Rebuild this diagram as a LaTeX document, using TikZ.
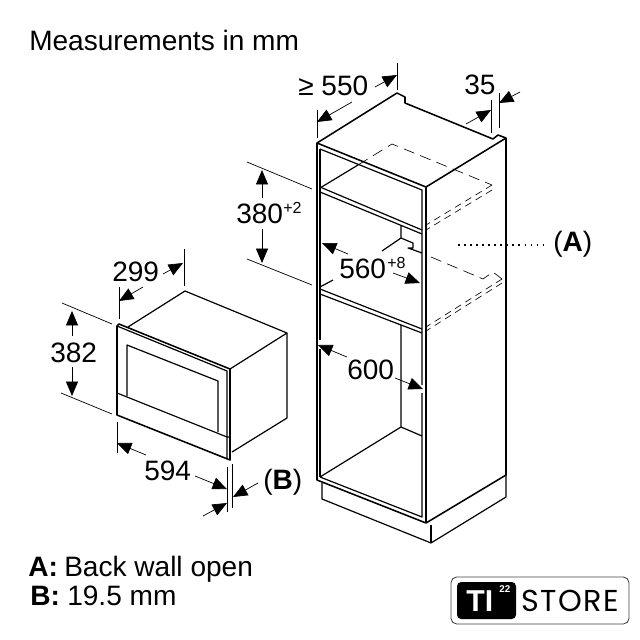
\documentclass[tikz,border=0pt]{standalone}
\usepackage{fontspec}
\setmainfont{Liberation Sans}
\newfontfamily\logofont[LetterSpace=5]{Poppins}
\usetikzlibrary{arrows.meta}
\tikzset{
    wall/.style={line width=1.1pt,line join=round},
    thinwall/.style={line width=.85pt,line join=round},
    hidden/.style={line width=.45pt,dash pattern=on 8pt off 4.5pt},
    hiddenshort/.style={line width=.45pt,dash pattern=on 5pt off 3.6pt},
    dimline/.style={line width=.5pt},
    dimarrow/.style={line width=.5pt,-{Triangle[length=.36cm,width=.3cm]}},
    lbl/.style={anchor=base west,inner sep=0pt,font=\fontsize{19.95}{24}\selectfont},
    suplbl/.style={anchor=base west,inner sep=0pt,font=\fontsize{11.4}{14}\selectfont}
}
\begin{document}
\begin{tikzpicture}[x=.025cm,y=-.025cm]
        
        \useasboundingbox (0,0) rectangle (640,640);
        
        \node[lbl] (title) at (29,50) {Measurements in mm};
        \node[lbl] (w550) at (298,95) {≥ 550};
        \node[lbl] (w35) at (464,94) {35};
        \node[lbl] (h380) at (236,223) {380};
        \node[suplbl] (h380s) at (283,213) {+2};
        \node[lbl] (w560) at (339,278) {560};
        \node[suplbl] (w560s) at (387,268) {+8};
        \node[lbl] (w600) at (347,379) {600};
        \node[lbl] (markA) at (553,251) {(\textbf{A})};
        \node[lbl] (d299) at (112,281) {299};
        \node[lbl] (h382) at (50,362) {382};
        \node[lbl] (w594) at (144,480) {594};
        \node[lbl] (markB) at (263,489) {(\textbf{B})};
        \node[lbl] (noteAk) at (28,576) {\textbf{A:}};
        \node[lbl] (noteA) at (64,576) {Back wall open};
        \node[lbl] (noteBk) at (30,605) {\textbf{B:}};
        \node[lbl] (noteB) at (67,605) {19.5 mm};
        
        % cabinet
        \draw[wall] (317,480) -- (317,143) -- (397,93) -- (405,97) -- (405,103) -- (493,139) -- (498,135) -- (506,138) -- (506,475) -- (426,523) -- cycle;
        \draw[wall] (317,143) -- (426,187) -- (506,138);
        \draw[wall] (426,187) -- (426,523);
        \draw[thinwall] (320,149) -- (320,340);
        \draw[thinwall] (320,349) -- (320,477);
        \draw[thinwall] (320,149) -- (422,190) -- (422,385);
        \draw[thinwall] (422,393) -- (422,517) -- (320,477);
        \draw[thinwall] (320,188) -- (358,165);
        \draw[thinwall] (320,187) -- (422,230);
        \draw[thinwall] (320,192) -- (422,234);
        \draw[thinwall] (401,225) -- (401,238) -- (382,251);
        \draw[thinwall] (401,238) -- (413,243) -- (413,248) -- (408,248) -- (422,253);
        \draw[thinwall] (320,287) -- (333,280);
        \draw[thinwall] (320,289) -- (422,329);
        \draw[thinwall] (320,294) -- (422,333);
        \draw[thinwall] (401,325) -- (401,427) -- (320,477);
        \draw[thinwall] (401,427) -- (422,436);
        
        % plinth
        \draw[thinwall] (322,483) -- (322,499) -- (431,543) -- (506,497) -- (506,475);
        \draw[thinwall] (431,525) -- (431,543);
        
        % hidden shelves
        \draw[hidden] (358,165) -- (392,144) -- (492,185);
        \draw[hiddenshort] (492,185) -- (426,225);
        \draw[hiddenshort] (492,190) -- (426,230);
        \draw[hidden] (431,257) -- (483,279) -- (493,272) -- (502,279);
        \draw[hiddenshort] (502,279) -- (426,327);
        \draw[hiddenshort] (502,283) -- (426,331);
        \draw[line width=1.4pt,dash pattern=on 1.2pt off 3.1pt] (458,245) -- (546,245);
        
        % appliance
        \draw[wall] (117,326) -- (117,415) -- (230,460) -- (230,369) -- (119,324) -- cycle;
        \draw[thinwall] (117,326) -- (227,371) -- (227,459);
        \draw[thinwall] (128,327) -- (185,291) -- (287,333) -- (230,369);
        \draw[thinwall] (287,333) -- (287,418) -- (232,452);
        \draw[thinwall] (127,396) -- (127,345) -- (218,381) -- (218,432);
        \draw[thinwall] (117,393) -- (227,437) -- (230,437);
        
        % extension lines
        \draw[dimline] (317,110) -- (317,138);
        \draw[dimline] (397,63) -- (397,90);
        \draw[dimline] (491,100) -- (491,133);
        \draw[dimline] (499,93) -- (499,128);
        \draw[dimline] (247,162) -- (312,189);
        \draw[dimline] (247,259) -- (312,285);
        \draw[dimline] (119,287) -- (119,319);
        \draw[dimline] (184,249) -- (184,286);
        \draw[dimline] (62,303) -- (112,324);
        \draw[dimline] (61,393) -- (112,414);
        \draw[dimline] (117,422) -- (117,453);
        \draw[dimline] (227,467) -- (227,512);
        \draw[dimline] (232,464) -- (232,508);
        
        % arrows
        \draw[dimarrow] (352,102) -- (317,122);
        \draw[dimarrow] (375,87) -- (397,75);
        \draw[dimarrow] (466,124) -- (491,110);
        \draw[dimarrow] (520,92) -- (499,103);
        \draw[dimarrow] (262,198) -- (262,170);
        \draw[dimarrow] (262,229) -- (262,263);
        \draw[dimarrow] (348,254) -- (322,243);
        \draw[dimarrow] (393,273) -- (420,283);
        \draw[dimarrow] (347,357) -- (318,345);
        \draw[dimarrow] (395,378) -- (423,389);
        \draw[dimarrow] (143,287) -- (119,301);
        \draw[dimarrow] (163,274) -- (183,263);
        \draw[dimarrow] (72,336) -- (72,311);
        \draw[dimarrow] (72,367) -- (72,396);
        \draw[dimarrow] (146,455) -- (117,443);
        \draw[dimarrow] (195,476) -- (227,489);
        \draw[dimarrow] (258,483) -- (233,497);
        \draw[dimarrow] (203,516) -- (227,503);
        
        % store badge
        \draw[line width=.6pt,draw=black!75,rounded corners=4pt] (451,577) rectangle (629,624);
        \fill[black,rounded corners=3pt] (457,582) rectangle (516,619);
        \node[anchor=base west,inner sep=0pt,text=white,font=\fontsize{21.5}{24}\selectfont\bfseries] (logoTI) at (466,611) {TI};
        \node[anchor=base west,inner sep=0pt,text=white,font=\fontsize{7}{8}\selectfont\bfseries] (logo22) at (499,592) {22};
        \node[anchor=base west,inner sep=0pt,font=\fontsize{21.5}{24}\logofont] (logoStore) at (521,611) {STORE};
        
    \end{tikzpicture}
\end{document}
